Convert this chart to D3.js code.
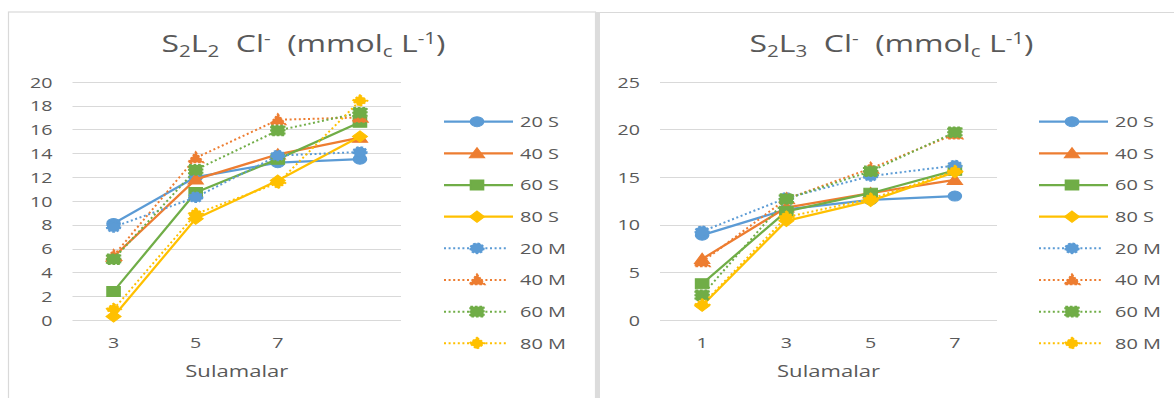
<!DOCTYPE html>
<html><head><meta charset="utf-8">
<script src="https://cdn.jsdelivr.net/npm/d3@7"></script>
<style>
body{margin:0;background:#fff}
svg{display:block}
text{font-family:"Open Sans",sans-serif;fill:#595959}
</style>
</head><body><svg id="c" width="1174" height="398"></svg>
<script>
// ---------- data ----------
const seriesNames = ["20 S","40 S","60 S","80 S","20 M","40 M","60 M","80 M"];
const seriesColors = ["#5B9BD5","#ED7D31","#70AD47","#FFC000","#5B9BD5","#ED7D31","#70AD47","#FFC000"];
const seriesShapes = ["circle","triangle","square","diamond","circle","triangle","square","diamond"];
const seriesDotted = [false,false,false,false,true,true,true,true];

// Left panel: S2L2
const leftCategories = ["3","5","7",""];
const leftTicks = [0,2,4,6,8,10,12,14,16,18,20];
const left20S = [8.1, 12.0, 13.2, 13.5];
const left40S = [5.3, 11.8, 13.9, 15.3];
const left60S = [2.4, 10.7, 13.5, 16.6];
const left80S = [0.3, 8.5, 11.7, 15.4];
const left20M = [7.8, 10.3, 13.8, 14.1];
const left40M = [5.4, 13.6, 16.8, 17.0];
const left60M = [5.1, 12.6, 15.9, 17.4];
const left80M = [0.9, 8.9, 11.5, 18.4];

// Right panel: S2L3
const rightCategories = ["1","3","5","7"];
const rightTicks = [0,5,10,15,20,25];
const right20S = [8.9, 11.6, 12.6, 13.0];
const right40S = [6.4, 11.8, 13.3, 14.7];
const right60S = [3.8, 11.4, 13.3, 15.7];
const right80S = [1.5, 10.4, 12.5, 15.5];
const right20M = [9.3, 12.8, 15.1, 16.2];
const right40M = [6.1, 12.7, 15.9, 19.5];
const right60M = [2.6, 12.7, 15.6, 19.7];
const right80M = [1.6, 10.8, 12.7, 15.6];

const xTitle = "Sulamalar";

// ---------- layout ----------
const SX = 1.33; // horizontal stretch of the original picture
const svg = d3.select("#c");

// panel frames
svg.append("rect").attr("x",8.5).attr("y",12).attr("width",587).attr("height",400)
  .attr("fill","none").attr("stroke","#d9d9d9").attr("stroke-width",1.2);
svg.append("rect").attr("x",595).attr("y",12).attr("width",5).attr("height",400).attr("fill","#dcdcdc");
svg.append("line").attr("x1",600).attr("x2",1174).attr("y1",12.5).attr("y2",12.5)
  .attr("stroke","#d9d9d9").attr("stroke-width",1.2);

function stext(g, x, y, str, size, anchor){
  return g.append("text").attr("transform",`translate(${x},${y}) scale(${SX},1)`)
    .attr("text-anchor",anchor||"start").attr("font-size",size).text(str);
}

function markerPath(shape){
  switch(shape){
    case "circle": return d3.symbol(d3.symbolCircle, Math.PI*5*5)();
    case "triangle": return "M0,-5.7L5.7,4.5L-5.7,4.5Z";
    case "square": return "M-5,-5h10v10h-10Z";
    case "diamond": return "M0,-5.6L5.6,0L0,5.6L-5.6,0Z";
  }
}

function drawMarker(g, x, y, i){
  g.append("path").attr("d", markerPath(seriesShapes[i]))
    .attr("transform",`translate(${x},${y}) scale(${SX},1)`)
    .attr("fill", seriesColors[i]).attr("stroke", seriesColors[i])
    .attr("stroke-width", seriesDotted[i] ? 1.6 : 1)
    .attr("stroke-dasharray", seriesDotted[i] ? "2,1.4" : null);
}

function titleText(g, cx, y, lsub){
  const t = g.append("text").attr("transform",`translate(${cx},${y}) scale(${SX},1)`)
    .attr("text-anchor","middle").attr("font-size",24);
  const sm = 15.5;
  t.append("tspan").text("S");
  t.append("tspan").attr("font-size",sm).attr("dy",5).text("2");
  t.append("tspan").attr("dy",-5).text("L");
  t.append("tspan").attr("font-size",sm).attr("dy",5).text(lsub);
  t.append("tspan").attr("dy",-5).text("\u00a0\u00a0Cl");
  t.append("tspan").attr("font-size",sm).attr("dy",-8).text("-");
  t.append("tspan").attr("dy",8).text("\u00a0\u00a0(mmol");
  t.append("tspan").attr("font-size",sm).attr("dy",5).text("c");
  t.append("tspan").attr("dy",-5).text("\u00a0L");
  t.append("tspan").attr("font-size",sm).attr("dy",-8).text("-1");
  t.append("tspan").attr("dy",8).text(")");
}

function drawPanel(cfg){
  const g = svg.append("g");
  const x = d3.scaleBand().domain(cfg.categories).range([cfg.x0, cfg.x1]);
  const y = d3.scaleLinear().domain([0, d3.max(cfg.ticks)]).range([320, 81.7]);
  const cx = c => x(c) + x.bandwidth()/2;

  // gridlines
  g.selectAll(".grid").data(cfg.ticks).join("line")
    .attr("x1",cfg.x0).attr("x2",cfg.x1)
    .attr("y1",d=>Math.round(y(d))+0.5).attr("y2",d=>Math.round(y(d))+0.5)
    .attr("stroke","#d9d9d9").attr("stroke-width",1);

  // y axis labels
  const ya = g.append("g").attr("transform",`translate(${cfg.x0},0)`)
    .call(d3.axisLeft(y).tickValues(cfg.ticks).tickSize(0).tickPadding(0));
  ya.select(".domain").remove();
  ya.selectAll("text").attr("x",null).attr("dy",null).attr("font-family",null).attr("fill",null)
    .attr("font-size",14.8).attr("y",5.3)
    .attr("transform",`translate(-20,0) scale(${SX},1)`);

  // x axis labels
  const xa = g.append("g").attr("transform",`translate(0,320)`)
    .call(d3.axisBottom(x).tickSize(0).tickPadding(0));
  xa.select(".domain").remove();
  xa.selectAll("text").attr("y",null).attr("dy",null).attr("font-family",null).attr("fill",null)
    .attr("font-size",14.8).attr("transform",`translate(0,27.5) scale(${SX},1)`);

  // axis title
  stext(g, (cfg.x0+cfg.x1)/2, 377, xTitle, 16.6, "middle");

  // chart title
  titleText(g, cfg.titleX, 52, cfg.lsub);

  // series
  const line = d3.line().x((d,i)=>cx(cfg.categories[i])).y(d=>y(d));
  cfg.series.forEach((vals,i)=>{
    g.append("path").attr("d", line(vals)).attr("fill","none")
      .attr("stroke", seriesColors[i])
      .attr("stroke-width", seriesDotted[i] ? 2 : 2.25)
      .attr("stroke-linejoin","round")
      .attr("stroke-dasharray", seriesDotted[i] ? "2,2.6" : null);
    vals.forEach((v,k)=>drawMarker(g, cx(cfg.categories[k]), y(v), i));
  });

  // legend
  const legendY = d3.scalePoint().domain(seriesNames).range([121.7, 343.3]);
  seriesNames.forEach((name,i)=>{
    const ly = legendY(name);
    g.append("line").attr("x1",cfg.legX).attr("x2",cfg.legX + (seriesDotted[i]?63:69))
      .attr("y1",ly).attr("y2",ly).attr("stroke",seriesColors[i])
      .attr("stroke-width", seriesDotted[i] ? 2 : 2.25)
      .attr("stroke-dasharray", seriesDotted[i] ? "2,2.6" : null);
    drawMarker(g, cfg.legX + 33, ly, i);
    stext(g, cfg.legX + 76, ly + 5.3, name, 15, "start");
  });
}

drawPanel({
  categories: leftCategories, ticks: leftTicks, x0: 72.5, x1: 401,
  titleX: 303.5, lsub: "2", legX: 444,
  series: [left20S,left40S,left60S,left80S,left20M,left40M,left60M,left80M]
});
drawPanel({
  categories: rightCategories, ticks: rightTicks, x0: 660, x1: 997,
  titleX: 891.5, lsub: "3", legX: 1039,
  series: [right20S,right40S,right60S,right80S,right20M,right40M,right60M,right80M]
});
</script>
</body></html>
